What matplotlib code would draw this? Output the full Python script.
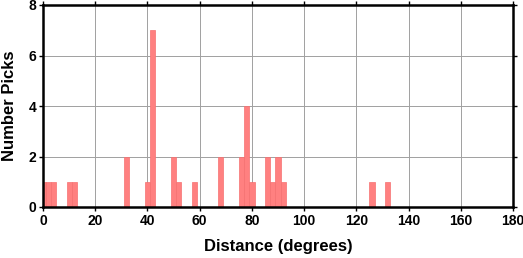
import numpy as np
import matplotlib
matplotlib.use('Agg')
from matplotlib import pyplot as plt

# bin centres (degrees) and pick counts, 2-degree bins
distance = [0, 2, 4, 10, 12, 32, 40, 42, 50, 52, 58, 68, 76, 78, 80, 86, 88, 90, 92, 126, 132]
picks = [1, 1, 1, 1, 1, 2, 1, 7, 2, 1, 1, 2, 2, 4, 1, 2, 1, 2, 1, 1, 1]

plt.rcParams['font.family'] = ['Liberation Sans', 'DejaVu Sans']
plt.rcParams['font.weight'] = 'bold'

fig = plt.figure(figsize=(5.23, 2.58), dpi=100)
ax = fig.add_axes([43 / 523, 51 / 258, 470 / 523, 202 / 258])

ax.bar(distance, picks, width=2, facecolor='#FF8080', edgecolor='#F57070', linewidth=0.5, zorder=3)

ax.set_xlim(0, 180)
ax.set_ylim(0, 8)
ax.set_xticks(np.arange(0, 181, 20))
ax.set_yticks(np.arange(0, 9, 2))
ax.grid(True, color='#a0a0a0', linewidth=0.7, zorder=0)
ax.set_axisbelow(True)

for s in ax.spines.values():
    s.set_linewidth(1.8)
    s.set_zorder(5)
ax.tick_params(direction='out', length=3, width=1, labelsize=10, pad=2,
               top=True, right=True)

ax.set_xlabel('Distance (degrees)', fontsize=12, fontweight='bold', labelpad=8)
ax.set_ylabel('Number Picks', fontsize=12, fontweight='bold', labelpad=8)

fig.savefig('out.png', dpi=100)
